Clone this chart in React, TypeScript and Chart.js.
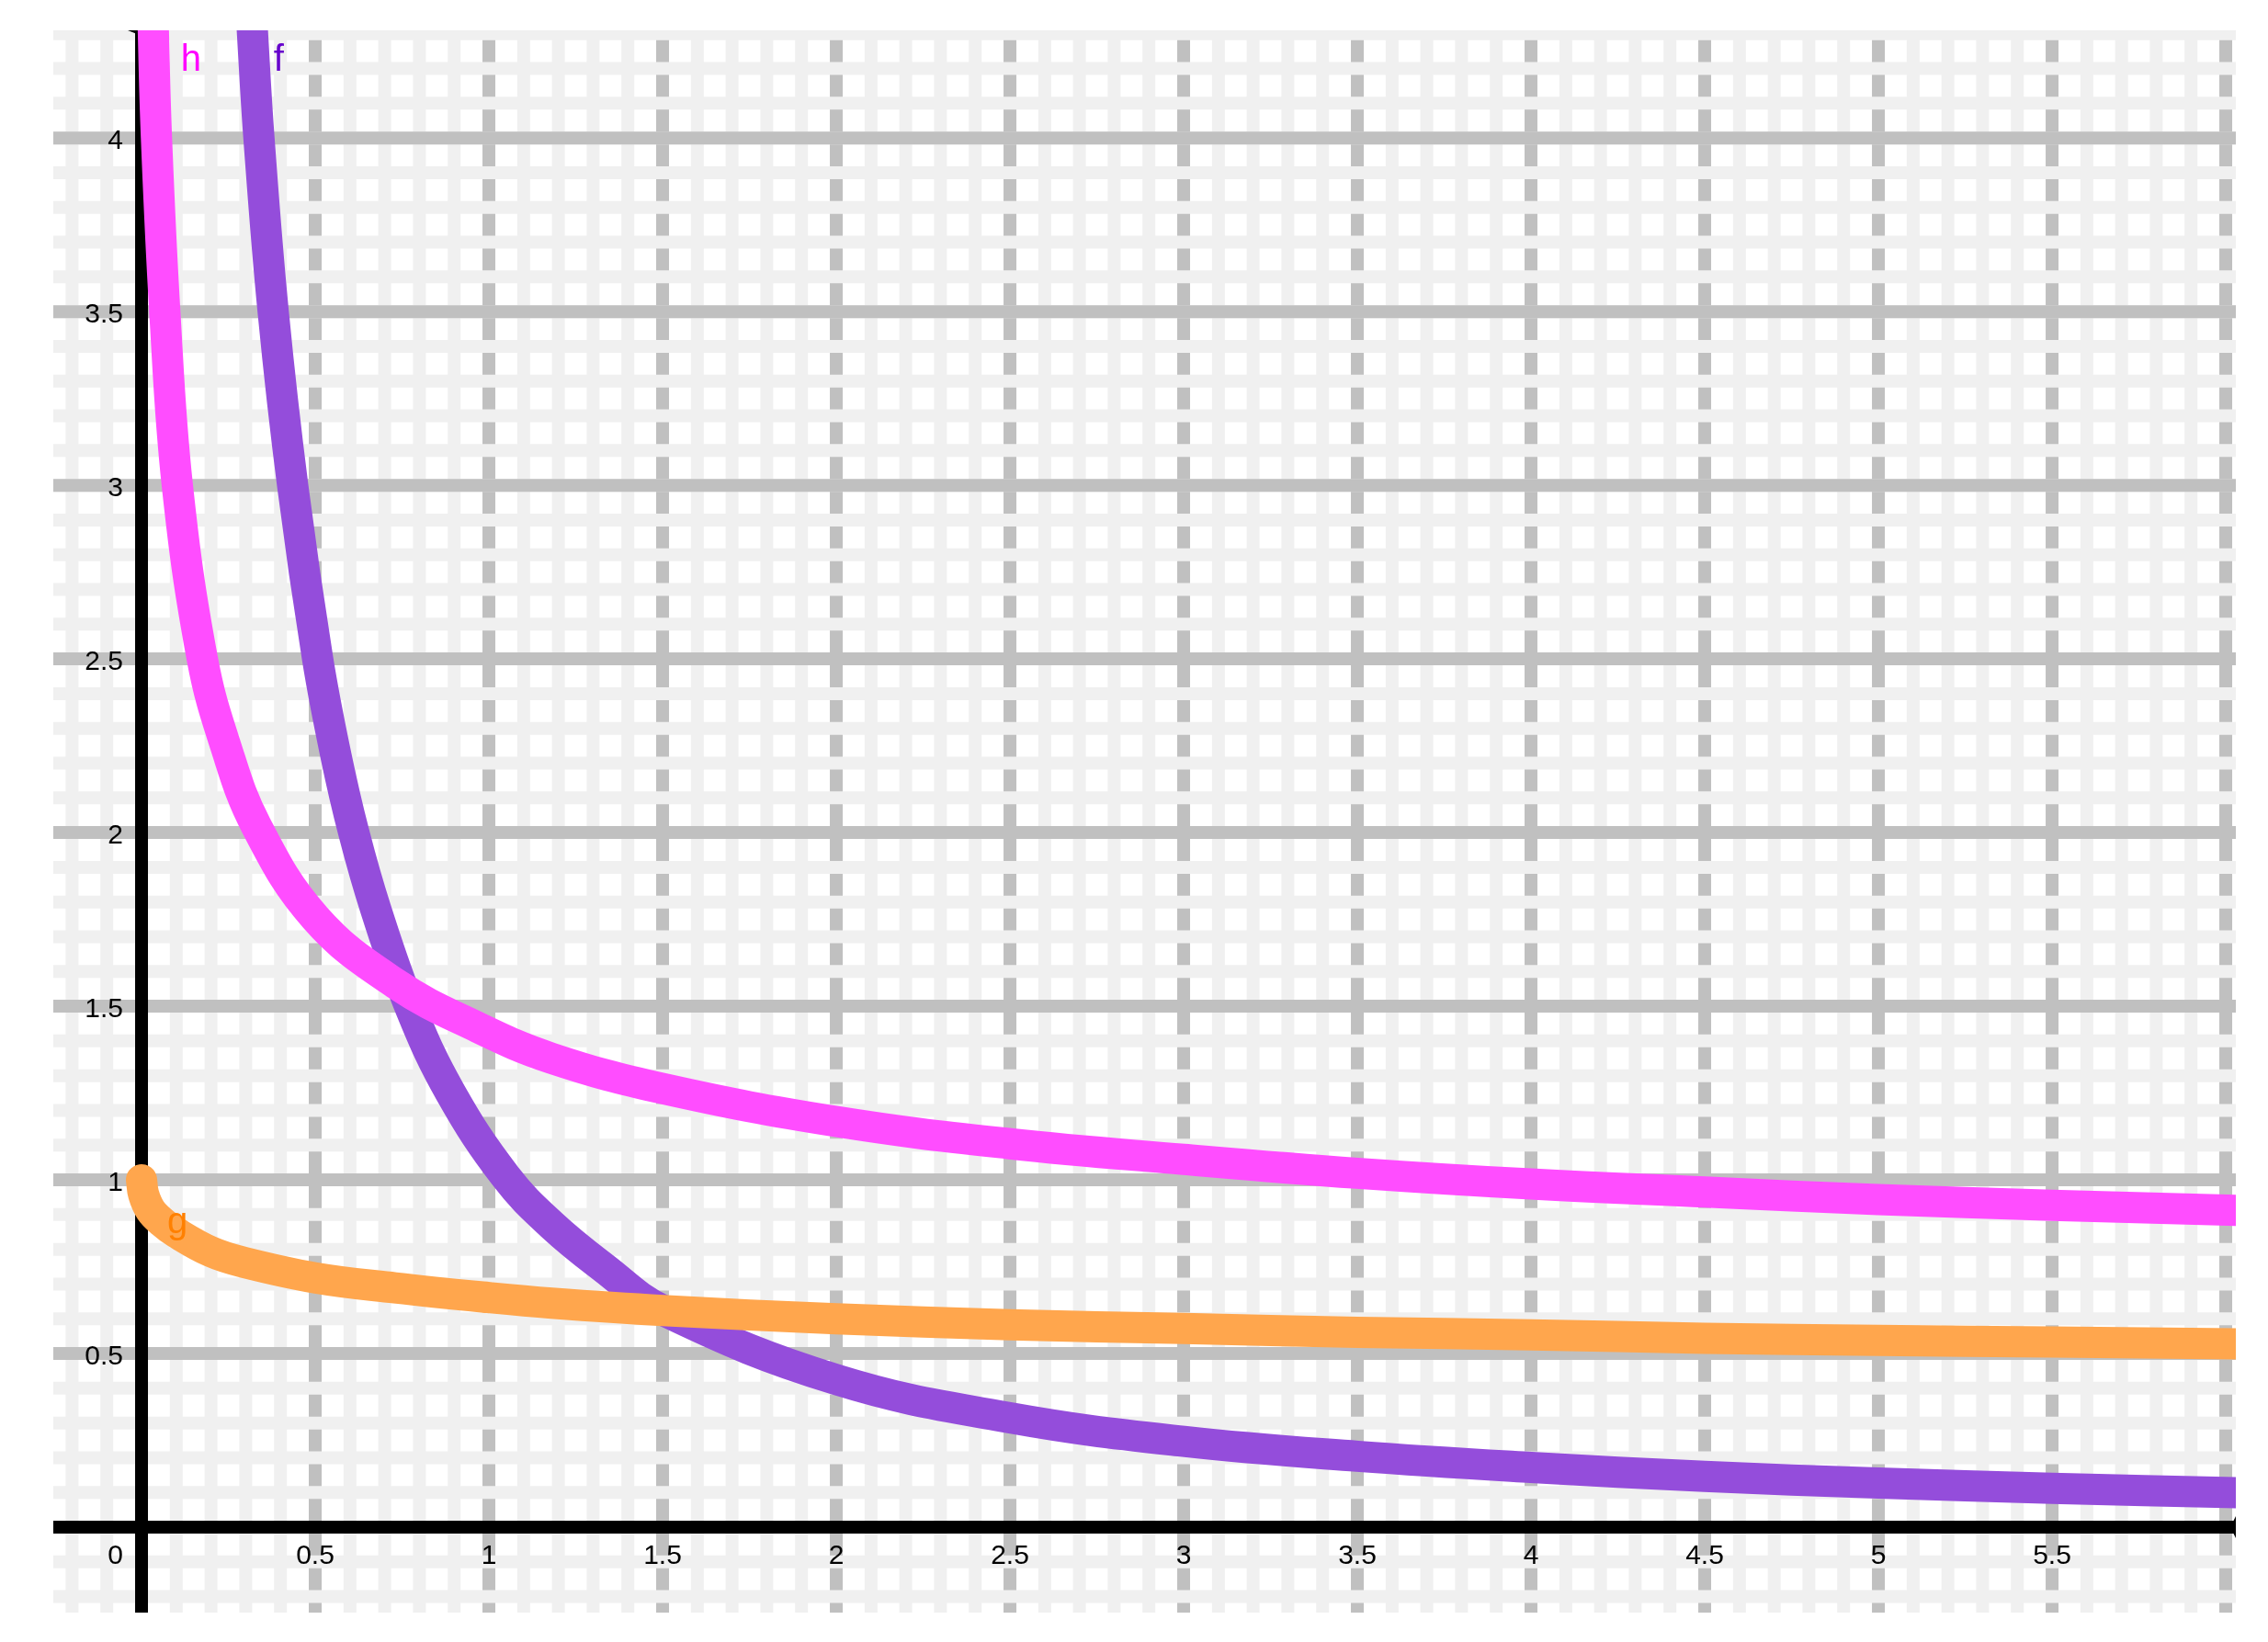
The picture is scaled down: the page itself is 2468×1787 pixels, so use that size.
import React, { useEffect, useRef } from 'react';
import { Chart, registerables } from 'chart.js';

Chart.register(...registerables);

// Axis window (data units)
const X_MIN = -0.254;
const X_MAX = 6.029;
const Y_MIN = -0.246;
const Y_MAX = 4.31;
const MINOR_STEP = 0.1;
const MAJOR_STEP = 0.5;

// Tick labels
const xTickValues = [0.5, 1, 1.5, 2, 2.5, 3, 3.5, 4, 4.5, 5, 5.5];
const xTickLabels = ['0.5', '1', '1.5', '2', '2.5', '3', '3.5', '4', '4.5', '5', '5.5'];
const yTickValues = [0.5, 1, 1.5, 2, 2.5, 3, 3.5, 4];
const yTickLabels = ['0.5', '1', '1.5', '2', '2.5', '3', '3.5', '4'];

// Series f (purple)
const fX = [0.3, 0.319, 0.338, 0.379, 0.435, 0.507, 0.56, 0.611, 0.674, 0.776, 0.89, 1.048, 1.181, 1.333, 1.5, 2.0, 2.5, 3.0, 3.5, 4.0, 4.5, 5.0, 5.5, 6.03];
const fY = [4.65, 4.31, 4.0, 3.5, 3.0, 2.5, 2.22, 2.0, 1.78, 1.49, 1.25, 1.01, 0.87, 0.745, 0.625, 0.425, 0.315, 0.247, 0.204, 0.172, 0.146, 0.127, 0.112, 0.099];

// Series g (orange)
const gX = [0, 0.006, 0.026, 0.06, 0.1, 0.2, 0.289, 0.5, 0.73, 1.0, 1.181, 1.5, 2.0, 2.5, 3.0, 3.5, 4.0, 4.5, 5.0, 5.5, 6.03];
const gY = [1.0, 0.958, 0.913, 0.878, 0.848, 0.793, 0.764, 0.718, 0.689, 0.661, 0.645, 0.624, 0.6, 0.583, 0.572, 0.561, 0.554, 0.544, 0.538, 0.533, 0.528];

// Series h (magenta)
const hX = [0.027, 0.034, 0.043, 0.067, 0.103, 0.175, 0.242, 0.33, 0.5, 0.73, 0.968, 1.181, 1.5, 2.0, 2.5, 3.0, 3.5, 4.0, 4.5, 5.0, 5.5, 6.03];
const hY = [4.65, 4.31, 4.0, 3.5, 3.0, 2.5, 2.25, 2.02, 1.755, 1.566, 1.439, 1.35, 1.263, 1.168, 1.104, 1.059, 1.019, 0.988, 0.965, 0.943, 0.927, 0.912];

// Curve name labels (data coordinates of the text's left baseline)
const curveNames = ['f', 'g', 'h'];
const curveNameX = [0.38, 0.074, 0.113];
const curveNameY = [4.193, 0.847, 4.193];
const curveNameColors = ['#6600CC', '#FF8000', '#FF00FF'];

const LIGHT = '#f0f0f0';
const GRAY = '#c0c0c0';
const TICK_FONT = '30px "Liberation Sans", Arial, sans-serif';
const NAME_FONT = '40px "Liberation Sans", Arial, sans-serif';

const toPoints = (xs: number[], ys: number[]) => xs.map((x, i) => ({ x, y: ys[i] }));

const gridAxesPlugin = {
  id: 'gridAxes',
  beforeDatasetsDraw(chart: any) {
    const { ctx, chartArea: a, scales } = chart;
    const xs = scales.x;
    const ys = scales.y;
    ctx.save();
    ctx.beginPath();
    ctx.rect(a.left, a.top, a.right - a.left, a.bottom - a.top);
    ctx.clip();
    ctx.lineCap = 'butt';
    ctx.lineWidth = 14;

    const vline = (v: number, color: string) => {
      const px = xs.getPixelForValue(v);
      ctx.strokeStyle = color;
      ctx.beginPath();
      ctx.moveTo(px, a.top);
      ctx.lineTo(px, a.bottom);
      ctx.stroke();
    };
    const hline = (v: number, color: string) => {
      const py = ys.getPixelForValue(v);
      ctx.strokeStyle = color;
      ctx.beginPath();
      ctx.moveTo(a.left, py);
      ctx.lineTo(a.right, py);
      ctx.stroke();
    };
    const ratio = Math.round(MAJOR_STEP / MINOR_STEP);
    const xi0 = Math.ceil(X_MIN / MINOR_STEP);
    const xi1 = Math.floor(X_MAX / MINOR_STEP);
    const yi0 = Math.ceil(Y_MIN / MINOR_STEP);
    const yi1 = Math.floor(Y_MAX / MINOR_STEP);
    for (let i = xi0; i <= xi1; i++) vline(i * MINOR_STEP, LIGHT);
    for (let i = xi0; i <= xi1; i++) if (i % ratio === 0 && i !== 0) vline(i * MINOR_STEP, GRAY);
    for (let i = yi0; i <= yi1; i++) hline(i * MINOR_STEP, LIGHT);
    for (let i = yi0; i <= yi1; i++) if (i % ratio === 0 && i !== 0) hline(i * MINOR_STEP, GRAY);

    // axes
    const x0 = xs.getPixelForValue(0);
    const y0 = ys.getPixelForValue(0);
    ctx.strokeStyle = '#000';
    ctx.fillStyle = '#000';
    ctx.beginPath();
    ctx.moveTo(a.left, y0);
    ctx.lineTo(a.right, y0);
    ctx.stroke();
    ctx.beginPath();
    ctx.moveTo(x0, a.top);
    ctx.lineTo(x0, a.bottom);
    ctx.stroke();
    // small arrow tips
    ctx.beginPath();
    ctx.moveTo(a.right - 6, y0);
    ctx.lineTo(a.right, y0 - 12);
    ctx.lineTo(a.right, y0 + 12);
    ctx.closePath();
    ctx.fill();
    ctx.beginPath();
    ctx.moveTo(x0, a.top + 6);
    ctx.lineTo(x0 - 15, a.top);
    ctx.lineTo(x0 + 15, a.top);
    ctx.closePath();
    ctx.fill();
    ctx.restore();

    // tick labels
    ctx.save();
    ctx.font = TICK_FONT;
    ctx.fillStyle = '#000';
    ctx.textBaseline = 'alphabetic';
    ctx.textAlign = 'center';
    xTickValues.forEach((v, i) => {
      ctx.fillText(xTickLabels[i], xs.getPixelForValue(v), y0 + 40);
    });
    ctx.textAlign = 'right';
    yTickValues.forEach((v, i) => {
      ctx.fillText(yTickLabels[i], x0 - 20, ys.getPixelForValue(v) + 12);
    });
    ctx.fillText('0', x0 - 20, y0 + 40);
    ctx.restore();
  },
  afterDatasetsDraw(chart: any) {
    const { ctx, scales } = chart;
    ctx.save();
    ctx.font = NAME_FONT;
    ctx.textAlign = 'left';
    ctx.textBaseline = 'alphabetic';
    curveNames.forEach((n, i) => {
      ctx.fillStyle = curveNameColors[i];
      ctx.fillText(n, scales.x.getPixelForValue(curveNameX[i]), scales.y.getPixelForValue(curveNameY[i]));
    });
    ctx.restore();
  },
};

export default function App() {
  const canvasRef = useRef<HTMLCanvasElement | null>(null);

  useEffect(() => {
    if (!canvasRef.current) return;
    const common = {
      pointRadius: 0,
      borderWidth: 34,
      borderCapStyle: 'round',
      borderJoinStyle: 'round',
      tension: 0.4,
      capBezierPoints: false,
      fill: false,
      clip: 0,
    };
    const chart = new Chart(canvasRef.current, {
      type: 'line',
      data: {
        datasets: [
          { ...common, label: 'h', data: toPoints(hX, hY), borderColor: '#FF4DFF', order: 1 },
          { ...common, label: 'g', data: toPoints(gX, gY), borderColor: '#FFA64D', order: 2 },
          { ...common, label: 'f', data: toPoints(fX, fY), borderColor: '#944DDB', order: 3 },
        ] as any,
      },
      options: {
        animation: false,
        responsive: false,
        maintainAspectRatio: false,
        devicePixelRatio: 1,
        events: [],
        layout: { padding: { left: 58, top: 33, right: 35, bottom: 32 } },
        plugins: { legend: { display: false }, tooltip: { enabled: false }, title: { display: false } },
        scales: {
          x: { type: 'linear', min: X_MIN, max: X_MAX, display: false },
          y: { type: 'linear', min: Y_MIN, max: Y_MAX, display: false },
        },
      } as any,
      plugins: [gridAxesPlugin],
    });
    return () => chart.destroy();
  }, []);

  return (
    <div style={{ position: 'fixed', left: 0, top: 0, width: 2468, height: 1787, background: '#fff' }}>
      <canvas ref={canvasRef} width={2468} height={1787} style={{ display: 'block', width: 2468, height: 1787 }} />
    </div>
  );
}
